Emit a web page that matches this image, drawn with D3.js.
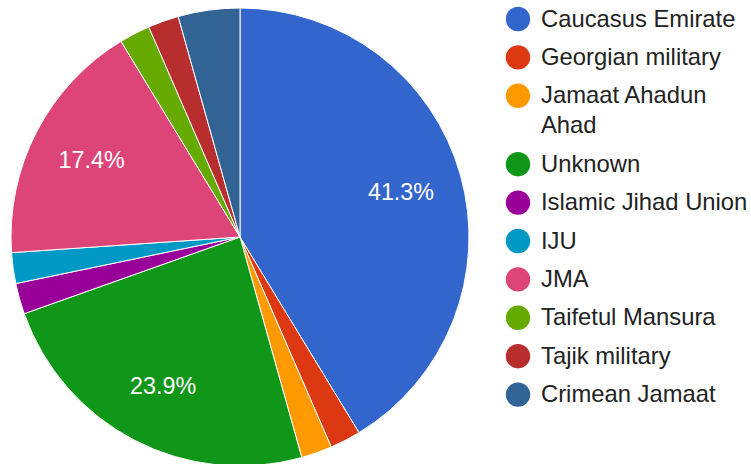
<!DOCTYPE html>
<html>
<head>
<meta charset="utf-8">
<script src="https://cdn.jsdelivr.net/npm/d3@7"></script>
<style>
  body { margin: 0; background: #fff; }
  text { font-family: "Liberation Sans", Arial, sans-serif; }
</style>
</head>
<body>
<div id="chart"></div>
<script>
var categories = ["Caucasus Emirate", "Georgian military", "Jamaat Ahadun Ahad", "Unknown",
    "Islamic Jihad Union", "IJU", "JMA", "Taifetul Mansura", "Tajik military", "Crimean Jamaat"];
var counts = [19, 1, 1, 11, 1, 1, 8, 1, 1, 2];
var colors = ["#3366cc", "#dc3912", "#ff9900", "#109618", "#990099",
    "#0099c6", "#dd4477", "#66aa00", "#b82e2e", "#316395"];

var width = 751, height = 464;
var cx = 240, cy = 237, radius = 229;

var svg = d3.select("#chart")
    .append("svg")
    .attr("width", width)
    .attr("height", height);

var total = d3.sum(counts);
var pie = d3.pie().sort(null).value(function(d) { return d; });
var arcs = pie(counts);
var arc = d3.arc().innerRadius(0).outerRadius(radius);
var labelArc = d3.arc().innerRadius(radius * 0.73).outerRadius(radius * 0.73);

var g = svg.append("g").attr("transform", "translate(" + cx + "," + cy + ")");

g.selectAll(".slice")
    .data(arcs)
    .enter()
    .append("path")
        .attr("class", "slice")
        .attr("d", arc)
        .style("fill", function(d, i) { return colors[i]; })
        .style("stroke", "#fff")
        .style("stroke-width", 1);

// only the big slices get a percent label
g.selectAll(".pct")
    .data(arcs.filter(function(d) { return d.value / total > 0.1; }))
    .enter()
    .append("text")
        .attr("class", "pct")
        .attr("transform", function(d) { return "translate(" + labelArc.centroid(d) + ")"; })
        .attr("text-anchor", "middle")
        .attr("dy", "0.36em")
        .style("font-size", "23.3px")
        .style("fill", "#fff")
        .text(function(d) { return (d.value / total * 100).toFixed(1) + "%"; });

// legend
var legend = svg.append("g");
var legendX = 518, textX = 541, maxWidth = 208;
var y = 18;
categories.forEach(function(name, i) {
    legend.append("circle")
        .attr("cx", legendX)
        .attr("cy", y + 1)
        .attr("r", 12.2)
        .style("fill", colors[i]);

    var t = legend.append("text")
        .attr("x", textX)
        .attr("y", y)
        .attr("dy", "0.36em")
        .style("font-size", "23.8px")
        .style("fill", "#222");

    var words = name.split(" "), line = [];
    var tspan = t.append("tspan").attr("x", textX);
    var lines = 1;
    words.forEach(function(w) {
        line.push(w);
        tspan.text(line.join(" "));
        if (tspan.node().getComputedTextLength() > maxWidth && line.length > 1) {
            line.pop();
            tspan.text(line.join(" "));
            line = [w];
            tspan = t.append("tspan").attr("x", textX).attr("dy", 30).text(w);
            lines++;
        }
    });
    y += 38.4 + (lines - 1) * 30;
});
</script>
</body>
</html>
